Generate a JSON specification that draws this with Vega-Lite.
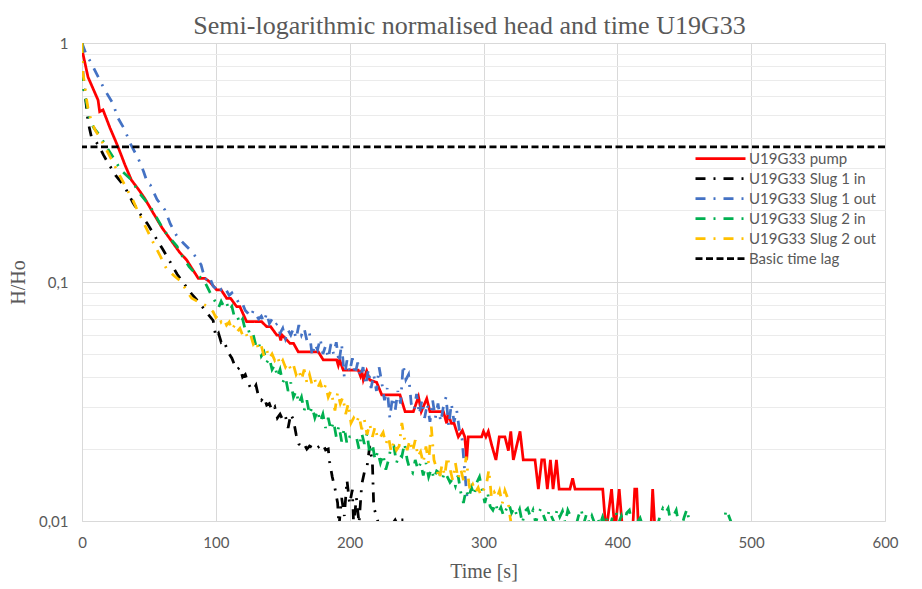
{
  "$schema": "https://vega.github.io/schema/vega-lite/v6.json",
  "width": 803,
  "height": 478,
  "autosize": {"type": "none"},
  "padding": {"left": 82, "top": 43, "right": 37, "bottom": 68},
  "background": "white",
  "title": {
    "text": "Semi-logarithmic normalised head and time U19G33",
    "anchor": "middle",
    "font": "Liberation Serif",
    "fontSize": 26,
    "fontWeight": "normal",
    "color": "#595959",
    "offset": -3,
    "dx": -14
  },
  "resolve": {"axis": {"x": "independent"}},
  "config": {
    "view": {"stroke": null},
    "axis": {
      "ticks": false,
      "domainColor": "#d9d9d9",
      "domainWidth": 1,
      "labelFont": "Lato",
      "labelFontSize": 15,
      "labelColor": "#595959",
      "labelOverlap": false,
      "labelFlush": false,
      "titleFont": "Liberation Serif",
      "titleFontSize": 20,
      "titleFontWeight": "normal",
      "titleColor": "#595959",
      "gridWidth": 1
    },
    "legend": {
      "orient": "none",
      "legendX": 610,
      "legendY": 108,
      "title": null,
      "symbolType": "M-5,0H5",
      "symbolSize": 100,
      "symbolStrokeWidth": 2.75,
      "symbolOffset": 21,
      "labelOffset": 21,
      "labelFont": "Lato",
      "labelFontSize": 15,
      "labelColor": "#595959",
      "rowPadding": 4
    }
  },
  "datasets": {
    "pump": [
      {"t":0,"h":0.94},{"t":4.5,"h":0.72},{"t":12,"h":0.577},{"t":13.2,"h":0.516},{"t":15.7,"h":0.525},
      {"t":21,"h":0.44},{"t":26.9,"h":0.368},{"t":32,"h":0.31},{"t":36.9,"h":0.267},{"t":42,"h":0.245},
      {"t":46.8,"h":0.224},{"t":53.3,"h":0.194},{"t":60,"h":0.168},{"t":68.2,"h":0.145},{"t":73,"h":0.133},
      {"t":78.2,"h":0.1236},{"t":83,"h":0.112},{"t":86.9,"h":0.1036},{"t":91.9,"h":0.1036},{"t":95.6,"h":0.1},
      {"t":100.6,"h":0.0926},{"t":104,"h":0.0926},{"t":108.1,"h":0.0855},{"t":111,"h":0.0855},{"t":115.6,"h":0.0788},
      {"t":118,"h":0.0788},{"t":123,"h":0.0682},{"t":134.3,"h":0.0682},{"t":138,"h":0.065},{"t":141,"h":0.065},
      {"t":145.5,"h":0.06},{"t":147.5,"h":0.06},{"t":148.5,"h":0.057},{"t":149.5,"h":0.06},{"t":155.4,"h":0.0554},
      {"t":158,"h":0.0554},{"t":161.6,"h":0.051},{"t":176.6,"h":0.051},{"t":180.3,"h":0.0472},{"t":190.3,"h":0.0472},
      {"t":191.5,"h":0.0448},{"t":192.5,"h":0.0472},{"t":195.2,"h":0.0428},{"t":206.4,"h":0.0428},{"t":208,"h":0.0405},
      {"t":209,"h":0.0428},{"t":210.2,"h":0.0389},{"t":212.7,"h":0.0425},{"t":215,"h":0.0389},{"t":220.2,"h":0.038},
      {"t":224,"h":0.0337},{"t":237.6,"h":0.0337},{"t":241.4,"h":0.0287},{"t":247.6,"h":0.0287},{"t":251.4,"h":0.0331},
      {"t":253.5,"h":0.0287},{"t":257.6,"h":0.0325},{"t":260,"h":0.0287},{"t":270,"h":0.0287},{"t":272.5,"h":0.0256},
      {"t":273.5,"h":0.0282},{"t":276,"h":0.0256},{"t":278,"h":0.0256},{"t":281.2,"h":0.0225},{"t":284.2,"h":0.0239},
      {"t":286,"h":0.0225},{"t":287.4,"h":0.018},{"t":288.6,"h":0.0225},{"t":298.6,"h":0.0225},{"t":300,"h":0.0237},
      {"t":301.8,"h":0.0225},{"t":303.6,"h":0.0237},{"t":306.1,"h":0.0208},{"t":309.3,"h":0.018},{"t":311.8,"h":0.0225},
      {"t":316,"h":0.0225},{"t":318.6,"h":0.0197},{"t":320.4,"h":0.0237},{"t":322.3,"h":0.018},{"t":327.3,"h":0.0237},
      {"t":329.7,"h":0.018},{"t":338.5,"h":0.018},{"t":341,"h":0.0136},{"t":343.5,"h":0.018},{"t":345.5,"h":0.018},
      {"t":347.7,"h":0.0136},{"t":350,"h":0.018},{"t":352,"h":0.0136},{"t":354.5,"h":0.018},{"t":356.5,"h":0.0136},
      {"t":364.6,"h":0.0136},{"t":366.6,"h":0.0151},{"t":368.4,"h":0.0136},{"t":389.1,"h":0.0136},{"t":391.6,"h":0.009},
      {"t":395.7,"h":0.0136},{"t":398.2,"h":0.009},{"t":401.4,"h":0.0136},{"t":404,"h":0.009},{"t":411.4,"h":0.009},
      {"t":413,"h":0.0136},{"t":414.5,"h":0.0136},{"t":415.9,"h":0.009},{"t":425,"h":0.009},{"t":426.4,"h":0.0136},
      {"t":428.2,"h":0.009},{"t":432,"h":0.009}
    ],
    "slug1in": [
      {"t":0,"h":1.0},{"t":0.5,"h":0.8},{"t":1,"h":0.66},{"t":2,"h":0.625},{"t":3.2,"h":0.55},{"t":4.5,"h":0.468},
      {"t":7,"h":0.405},{"t":10,"h":0.39},{"t":13,"h":0.368},{"t":16,"h":0.34},{"t":19,"h":0.318},{"t":25,"h":0.28},
      {"t":32,"h":0.25},{"t":38,"h":0.215},{"t":43,"h":0.194},{"t":49,"h":0.175},{"t":54,"h":0.157},{"t":60,"h":0.138},
      {"t":66,"h":0.121},{"t":71,"h":0.108},{"t":77,"h":0.097},{"t":82,"h":0.089},{"t":86,"h":0.084},{"t":92,"h":0.076},
      {"t":98,"h":0.069},{"t":100,"h":0.059},{"t":102,"h":0.061},{"t":104,"h":0.056},{"t":106,"h":0.057},{"t":108,"h":0.053},
      {"t":110,"h":0.05},{"t":112,"h":0.048},{"t":114,"h":0.045},{"t":116,"h":0.043},{"t":118,"h":0.044},{"t":120,"h":0.04},
      {"t":122,"h":0.041},{"t":124,"h":0.038},{"t":126,"h":0.036},{"t":128,"h":0.0354},{"t":130,"h":0.037},{"t":132,"h":0.033},
      {"t":134,"h":0.032},{"t":136,"h":0.033},{"t":138,"h":0.0305},{"t":140,"h":0.031},{"t":142,"h":0.029},{"t":144,"h":0.03},
      {"t":146,"h":0.027},{"t":148,"h":0.028},{"t":150,"h":0.0265},{"t":152,"h":0.0275},{"t":154,"h":0.0245},{"t":156,"h":0.028},
      {"t":158,"h":0.0265},{"t":160,"h":0.023},{"t":162,"h":0.021},{"t":164,"h":0.0205},{"t":166,"h":0.021},{"t":168,"h":0.02},
      {"t":170,"h":0.0206},{"t":172,"h":0.0203},{"t":174,"h":0.0208},{"t":176,"h":0.0203},{"t":178,"h":0.0206},{"t":180,"h":0.021},
      {"t":182,"h":0.0198},{"t":184,"h":0.02},{"t":185,"h":0.0177},{"t":187,"h":0.0153},{"t":189,"h":0.0137},
      {"t":191,"h":0.0119},{"t":192,"h":0.0095},{"t":194,"h":0.0125},{"t":196,"h":0.0105},{"t":198,"h":0.0148},{"t":200,"h":0.0118},
      {"t":202,"h":0.0135},{"t":203,"h":0.0095},{"t":205,"h":0.0125},{"t":207,"h":0.0098},{"t":209,"h":0.0142},{"t":211,"h":0.016},
      {"t":213,"h":0.0169},{"t":215,"h":0.0206},{"t":217,"h":0.0175},{"t":218,"h":0.0114},{"t":220,"h":0.0105},{"t":222,"h":0.0095},
      {"t":226,"h":0.0101},{"t":230,"h":0.0094},{"t":234,"h":0.0101},{"t":236,"h":0.0096},{"t":238,"h":0.0101},{"t":241,"h":0.0101}
    ],
    "slug1out": [
      {"t":0,"h":1.0},{"t":3,"h":0.9},{"t":7,"h":0.822},{"t":12,"h":0.723},{"t":17,"h":0.636},{"t":23,"h":0.56},
      {"t":27,"h":0.484},{"t":32,"h":0.433},{"t":36,"h":0.38},{"t":42,"h":0.329},{"t":46,"h":0.29},{"t":49,"h":0.259},
      {"t":51,"h":0.255},{"t":56,"h":0.222},{"t":62,"h":0.2},{"t":66,"h":0.175},{"t":71,"h":0.155},{"t":76,"h":0.145},
      {"t":82,"h":0.134},{"t":86,"h":0.125},{"t":89,"h":0.118},{"t":92,"h":0.102},{"t":95,"h":0.106},{"t":98,"h":0.096},
      {"t":100,"h":0.094},{"t":102,"h":0.09},{"t":104,"h":0.093},{"t":106,"h":0.0897},{"t":108,"h":0.092},{"t":110,"h":0.088},
      {"t":112,"h":0.09},{"t":114,"h":0.086},{"t":116,"h":0.084},{"t":118,"h":0.08},{"t":120,"h":0.081},{"t":122,"h":0.076},
      {"t":124,"h":0.074},{"t":126,"h":0.0716},{"t":128,"h":0.076},{"t":130,"h":0.073},{"t":132,"h":0.07},{"t":134,"h":0.072},
      {"t":136,"h":0.068},{"t":138,"h":0.074},{"t":140,"h":0.067},{"t":142,"h":0.07},{"t":144,"h":0.066},
      {"t":146,"h":0.067},{"t":148,"h":0.061},{"t":150,"h":0.064},{"t":152,"h":0.058},{"t":154,"h":0.063},{"t":156,"h":0.06},
      {"t":158,"h":0.064},{"t":160,"h":0.058},{"t":162,"h":0.066},{"t":164,"h":0.06},{"t":166,"h":0.064},{"t":168,"h":0.057},
      {"t":170,"h":0.061},{"t":172,"h":0.049},{"t":174,"h":0.055},{"t":176,"h":0.052},{"t":178,"h":0.058},{"t":180,"h":0.05},
      {"t":182,"h":0.054},{"t":184,"h":0.048},{"t":186,"h":0.055},{"t":188,"h":0.05},{"t":190,"h":0.056},{"t":192,"h":0.046},
      {"t":194,"h":0.055},{"t":196,"h":0.04},{"t":198,"h":0.047},{"t":200,"h":0.042},{"t":202,"h":0.048},{"t":204,"h":0.041},
      {"t":206,"h":0.046},{"t":208,"h":0.04},{"t":210,"h":0.044},{"t":212,"h":0.037},{"t":214,"h":0.043},{"t":216,"h":0.036},
      {"t":218,"h":0.041},{"t":220,"h":0.035},{"t":222,"h":0.044},{"t":224,"h":0.038},{"t":226,"h":0.032},{"t":228,"h":0.036},
      {"t":230,"h":0.027},{"t":232,"h":0.033},{"t":234,"h":0.029},{"t":236,"h":0.035},{"t":238,"h":0.031},{"t":240,"h":0.045},
      {"t":242,"h":0.039},{"t":244,"h":0.041},{"t":246,"h":0.031},{"t":248,"h":0.029},{"t":250,"h":0.034},{"t":252,"h":0.028},
      {"t":254,"h":0.032},{"t":256,"h":0.027},{"t":258,"h":0.031},{"t":260,"h":0.026},{"t":262,"h":0.032},{"t":264,"h":0.027},
      {"t":266,"h":0.031},{"t":268,"h":0.026},{"t":270,"h":0.03},{"t":272,"h":0.033},{"t":274,"h":0.025},{"t":276,"h":0.031},
      {"t":278,"h":0.026},{"t":280,"h":0.029},{"t":282,"h":0.024},{"t":284,"h":0.022},{"t":286,"h":0.016},{"t":288,"h":0.012}
    ],
    "slug2in": [
      {"t":0,"h":1.0},{"t":0.5,"h":0.68},{"t":2,"h":0.6},{"t":3.2,"h":0.568},{"t":5.7,"h":0.476},{"t":9,"h":0.44},
      {"t":13,"h":0.412},{"t":18,"h":0.37},{"t":23,"h":0.334},{"t":29,"h":0.294},{"t":37,"h":0.267},{"t":43,"h":0.235},
      {"t":51,"h":0.207},{"t":56,"h":0.185},{"t":61,"h":0.165},{"t":66,"h":0.152},{"t":71,"h":0.141},{"t":75,"h":0.128},
      {"t":80,"h":0.116},{"t":85,"h":0.108},{"t":91,"h":0.102},{"t":96,"h":0.0897},
      {"t":100,"h":0.082},{"t":102,"h":0.078},{"t":104,"h":0.083},{"t":106,"h":0.079},{"t":108,"h":0.082},{"t":110,"h":0.076},
      {"t":112,"h":0.079},{"t":114,"h":0.071},{"t":116,"h":0.072},{"t":118,"h":0.067},{"t":120,"h":0.07},{"t":122,"h":0.063},
      {"t":124,"h":0.064},{"t":126,"h":0.059},{"t":128,"h":0.06},{"t":130,"h":0.054},{"t":132,"h":0.056},{"t":134,"h":0.049},
      {"t":136,"h":0.051},{"t":138,"h":0.046},{"t":140,"h":0.048},{"t":142,"h":0.043},{"t":144,"h":0.045},{"t":146,"h":0.04},
      {"t":148,"h":0.043},{"t":150,"h":0.038},{"t":152,"h":0.04},{"t":154,"h":0.035},{"t":156,"h":0.038},{"t":158,"h":0.033},
      {"t":160,"h":0.035},{"t":162,"h":0.031},{"t":164,"h":0.033},{"t":166,"h":0.029},{"t":168,"h":0.032},{"t":170,"h":0.028},
      {"t":172,"h":0.03},{"t":174,"h":0.027},{"t":176,"h":0.029},{"t":178,"h":0.026},{"t":180,"h":0.028},{"t":182,"h":0.0245},
      {"t":184,"h":0.027},{"t":186,"h":0.024},{"t":188,"h":0.026},{"t":190,"h":0.0225},{"t":192,"h":0.025},{"t":194,"h":0.0215},
      {"t":196,"h":0.0245},{"t":198,"h":0.021},
      {"t":200,"h":0.0225},{"t":203,"h":0.0225},{"t":205,"h":0.0225},{"t":207,"h":0.02},{"t":209,"h":0.0233},
      {"t":211,"h":0.021},{"t":213,"h":0.0233},{"t":215,"h":0.019},{"t":217,"h":0.021},{"t":219,"h":0.018},{"t":221,"h":0.0195},
      {"t":223,"h":0.0175},{"t":225,"h":0.019},{"t":227,"h":0.0164},{"t":229,"h":0.018},{"t":231,"h":0.0206},{"t":233,"h":0.0206},
      {"t":235,"h":0.0175},{"t":237,"h":0.019},{"t":239,"h":0.0186},{"t":241,"h":0.0211},{"t":243,"h":0.018},{"t":245,"h":0.0164},
      {"t":247,"h":0.0159},{"t":249,"h":0.018},{"t":251,"h":0.0164},{"t":253,"h":0.0175},{"t":255,"h":0.0155},{"t":257,"h":0.0175},
      {"t":259,"h":0.0153},{"t":261,"h":0.0165},{"t":263,"h":0.015},{"t":265,"h":0.0162},{"t":267,"h":0.0159},{"t":269,"h":0.0148},
      {"t":271,"h":0.016},{"t":273,"h":0.0153},{"t":275,"h":0.0145},{"t":277,"h":0.015},{"t":279,"h":0.014},{"t":281,"h":0.0155},
      {"t":283,"h":0.0132},{"t":285,"h":0.0119},{"t":287,"h":0.0135},{"t":289,"h":0.0125},{"t":291,"h":0.0138},{"t":293,"h":0.0128},
      {"t":295,"h":0.0145},{"t":297,"h":0.0153},{"t":299,"h":0.0135},{"t":301,"h":0.0119},{"t":303,"h":0.0132},{"t":305,"h":0.0115},
      {"t":307,"h":0.0111},{"t":309,"h":0.0119},{"t":311,"h":0.0108},{"t":313,"h":0.0114},{"t":315,"h":0.0105},{"t":317,"h":0.0112},
      {"t":319,"h":0.0118},{"t":321,"h":0.0108},{"t":323,"h":0.0114},{"t":325,"h":0.0105},{"t":327,"h":0.0112},{"t":329,"h":0.0098},
      {"t":331,"h":0.011},{"t":333,"h":0.0113},{"t":335,"h":0.0104},{"t":337,"h":0.0111},{"t":339,"h":0.0098},{"t":341,"h":0.0108},
      {"t":343,"h":0.0113},{"t":345,"h":0.0105},{"t":347,"h":0.0098},{"t":349,"h":0.0111},{"t":351,"h":0.0104},{"t":353,"h":0.0098},
      {"t":355,"h":0.0112},{"t":357,"h":0.0104},{"t":359,"h":0.011},{"t":361,"h":0.0098},{"t":363,"h":0.0111},{"t":365,"h":0.0105},
      {"t":367,"h":0.0095},{"t":369,"h":0.0095},{"t":371,"h":0.0105},{"t":373,"h":0.0112},{"t":375,"h":0.0098},{"t":377,"h":0.0107},
      {"t":379,"h":0.0098},{"t":381,"h":0.0105},{"t":383,"h":0.0098},{"t":385,"h":0.0104},{"t":387,"h":0.0096},{"t":389,"h":0.0104},
      {"t":391,"h":0.0096},{"t":393,"h":0.0105},{"t":395,"h":0.0097},{"t":397,"h":0.0107},{"t":399,"h":0.0109},{"t":401,"h":0.0098},
      {"t":403,"h":0.0105},{"t":405,"h":0.0096},{"t":407,"h":0.0108},{"t":409,"h":0.0111},{"t":411,"h":0.0098},{"t":413,"h":0.0095},
      {"t":417,"h":0.0103},{"t":419,"h":0.0095},{"t":430,"h":0.0095},{"t":432,"h":0.0106},{"t":434,"h":0.0113},{"t":436,"h":0.0108},
      {"t":438,"h":0.0113},{"t":440,"h":0.0098},{"t":442,"h":0.0105},{"t":444,"h":0.0111},{"t":446,"h":0.0096},{"t":448,"h":0.0095},
      {"t":450,"h":0.0104},{"t":452,"h":0.0112},{"t":454,"h":0.0098},{"t":456,"h":0.0095},{"t":480,"h":0.0095},{"t":481,"h":0.0111},
      {"t":483,"h":0.0106},{"t":485,"h":0.0099}
    ],
    "slug2out": [
      {"t":0,"h":1.0},{"t":0.5,"h":0.75},{"t":2,"h":0.68},{"t":3,"h":0.6},{"t":4.5,"h":0.533},{"t":7,"h":0.47},
      {"t":10,"h":0.43},{"t":13,"h":0.405},{"t":18,"h":0.36},{"t":23,"h":0.318},{"t":28,"h":0.28},{"t":33,"h":0.248},
      {"t":38,"h":0.22},{"t":43,"h":0.191},{"t":48,"h":0.168},{"t":53,"h":0.147},{"t":58,"h":0.13},{"t":63,"h":0.114},
      {"t":69,"h":0.106},{"t":74.5,"h":0.1},{"t":78,"h":0.092},{"t":82,"h":0.0855},{"t":88,"h":0.082},{"t":94,"h":0.079},
      {"t":98,"h":0.075},{"t":100,"h":0.071},{"t":102,"h":0.073},{"t":104,"h":0.068},{"t":106,"h":0.07},{"t":108,"h":0.066},
      {"t":110,"h":0.068},{"t":112,"h":0.063},{"t":114,"h":0.066},{"t":116,"h":0.062},{"t":118,"h":0.064},{"t":120,"h":0.06},
      {"t":122,"h":0.062},{"t":124,"h":0.058},{"t":126,"h":0.06},{"t":128,"h":0.055},{"t":130,"h":0.057},{"t":132,"h":0.052},
      {"t":134,"h":0.054},{"t":136,"h":0.049},{"t":138,"h":0.052},{"t":140,"h":0.048},{"t":142,"h":0.05},{"t":144,"h":0.047},
      {"t":146,"h":0.049},{"t":148,"h":0.045},{"t":150,"h":0.047},{"t":152,"h":0.044},{"t":154,"h":0.046},{"t":156,"h":0.043},
      {"t":158,"h":0.045},{"t":160,"h":0.041},{"t":162,"h":0.043},{"t":164,"h":0.039},{"t":166,"h":0.043},{"t":168,"h":0.038},
      {"t":170,"h":0.041},{"t":172,"h":0.037},{"t":174,"h":0.039},{"t":176,"h":0.036},{"t":178,"h":0.038},{"t":180,"h":0.035},
      {"t":182,"h":0.037},{"t":184,"h":0.033},{"t":186,"h":0.035},{"t":188,"h":0.031},
      {"t":189,"h":0.029},{"t":191,"h":0.0345},{"t":193,"h":0.031},
      {"t":195,"h":0.033},{"t":197,"h":0.028},{"t":199,"h":0.031},{"t":201,"h":0.0257},{"t":203,"h":0.027},{"t":205,"h":0.0257},
      {"t":207,"h":0.0275},{"t":209,"h":0.0242},{"t":211,"h":0.0265},{"t":213,"h":0.023},{"t":215,"h":0.0255},{"t":217,"h":0.0225},
      {"t":219,"h":0.0248},{"t":221,"h":0.022},{"t":223,"h":0.0225},{"t":225,"h":0.0235},{"t":227,"h":0.021},{"t":229,"h":0.0225},
      {"t":231,"h":0.0195},{"t":233,"h":0.0215},{"t":235,"h":0.0198},{"t":237,"h":0.0206},{"t":239,"h":0.0257},{"t":241,"h":0.022},
      {"t":243,"h":0.0198},{"t":245,"h":0.0218},{"t":247,"h":0.0195},{"t":249,"h":0.0218},{"t":251,"h":0.0186},{"t":253,"h":0.0195},
      {"t":255,"h":0.0175},{"t":257,"h":0.0205},{"t":259,"h":0.0175},{"t":261,"h":0.0248},{"t":263,"h":0.018},{"t":265,"h":0.0165},
      {"t":267,"h":0.015},{"t":269,"h":0.0172},{"t":271,"h":0.0155},{"t":273,"h":0.0186},{"t":275,"h":0.0165},{"t":277,"h":0.0148},
      {"t":279,"h":0.0175},{"t":281,"h":0.015},{"t":283,"h":0.0165},{"t":285,"h":0.0148},{"t":287,"h":0.0186},{"t":289,"h":0.0145},
      {"t":290,"h":0.0134},{"t":292,"h":0.0142},{"t":294,"h":0.0132},{"t":296,"h":0.0138},{"t":298,"h":0.0128},{"t":300,"h":0.0135},
      {"t":302,"h":0.014},{"t":304,"h":0.0164},{"t":306,"h":0.0125},{"t":308,"h":0.0132},{"t":310,"h":0.0125},{"t":312,"h":0.0134},
      {"t":314,"h":0.0118},{"t":316,"h":0.0134},{"t":318,"h":0.0125},{"t":320,"h":0.0103},{"t":321,"h":0.0095}
    ],
    "timelag": [{"h": 0.368}]
  },
  "layer": [
    {
      "data": {"name": "pump"},
      "mark": {"type": "line", "clip": true, "strokeWidth": 2.75},
      "encoding": {
        "x": {
          "field": "t", "type": "quantitative", "title": "Time [s]",
          "scale": {"domain": [0, 600], "nice": false},
          "axis": {
            "orient": "bottom",
            "values": [0, 100, 200, 300, 400, 500, 600],
            "gridColor": "#d9d9d9",
            "labelPadding": 14,
            "titlePadding": 11
          }
        },
        "y": {
          "field": "h", "type": "quantitative", "title": "H/Ho",
          "scale": {"type": "log", "domain": [0.01, 1]},
          "axis": {
            "values": [0.01,0.02,0.03,0.04,0.05,0.06,0.07,0.08,0.09,0.1,0.2,0.3,0.4,0.5,0.6,0.7,0.8,0.9,1],
            "format": "~g",
            "labelExpr": "indexof([0.01, 0.1, 1], datum.value) >= 0 ? replace(datum.label, '.', ',') : ''",
            "labelOverlap": false,
            "gridColor": {"condition": {"test": "indexof([0.01, 0.1, 1], datum.value) >= 0", "value": "#d9d9d9"}, "value": "#ebebeb"},
            "labelPadding": 14,
            "titlePadding": 10
          }
        },
        "color": {
          "datum": "U19G33 pump", "type": "nominal",
          "scale": {
            "domain": ["U19G33 pump", "U19G33 Slug 1 in", "U19G33 Slug 1 out", "U19G33 Slug 2 in", "U19G33 Slug 2 out", "Basic time lag"],
            "range": ["#ff0000", "#000000", "#4472c4", "#00b050", "#ffc000", "#000000"]
          }
        },
        "strokeDash": {
          "datum": "U19G33 pump", "type": "nominal",
          "scale": {
            "domain": ["U19G33 pump", "U19G33 Slug 1 in", "U19G33 Slug 1 out", "U19G33 Slug 2 in", "U19G33 Slug 2 out", "Basic time lag"],
            "range": [[1, 0], [10, 8, 2, 8], [10, 8, 2, 8], [10, 8, 2, 8], [10, 8, 2, 8], [7, 3.5]]
          }
        }
      }
    },
    {
      "data": {"name": "slug1in"},
      "mark": {"type": "line", "clip": true, "strokeWidth": 2.75},
      "encoding": {
        "x": {
          "field": "t", "type": "quantitative",
          "axis": {
            "orient": "top",
            "title": null,
            "labels": false,
            "domain": false,
            "gridColor": "#ebebeb",
            "values": [10,20,30,40,50,60,70,80,90,110,120,130,140,150,160,170,180,190,210,220,230,240,250,260,270,280,290,310,320,330,340,350,360,370,380,390,410,420,430,440,450,460,470,480,490,510,520,530,540,550,560,570,580,590]
          }
        },
        "y": {"field": "h", "type": "quantitative"},
        "color": {"datum": "U19G33 Slug 1 in", "type": "nominal"},
        "strokeDash": {"datum": "U19G33 Slug 1 in", "type": "nominal"}
      }
    },
    {
      "data": {"name": "slug1out"},
      "mark": {"type": "line", "clip": true, "strokeWidth": 2.75},
      "encoding": {
        "x": {"field": "t", "type": "quantitative", "axis": null},
        "y": {"field": "h", "type": "quantitative"},
        "color": {"datum": "U19G33 Slug 1 out", "type": "nominal"},
        "strokeDash": {"datum": "U19G33 Slug 1 out", "type": "nominal"}
      }
    },
    {
      "data": {"name": "slug2in"},
      "mark": {"type": "line", "clip": true, "strokeWidth": 2.75},
      "encoding": {
        "x": {"field": "t", "type": "quantitative", "axis": null},
        "y": {"field": "h", "type": "quantitative"},
        "color": {"datum": "U19G33 Slug 2 in", "type": "nominal"},
        "strokeDash": {"datum": "U19G33 Slug 2 in", "type": "nominal"}
      }
    },
    {
      "data": {"name": "slug2out"},
      "mark": {"type": "line", "clip": true, "strokeWidth": 2.75},
      "encoding": {
        "x": {"field": "t", "type": "quantitative", "axis": null},
        "y": {"field": "h", "type": "quantitative"},
        "color": {"datum": "U19G33 Slug 2 out", "type": "nominal"},
        "strokeDash": {"datum": "U19G33 Slug 2 out", "type": "nominal"}
      }
    },
    {
      "data": {"name": "timelag"},
      "mark": {"type": "rule", "strokeWidth": 2.75},
      "encoding": {
        "y": {"field": "h", "type": "quantitative"},
        "color": {"datum": "Basic time lag", "type": "nominal"},
        "strokeDash": {"datum": "Basic time lag", "type": "nominal"}
      }
    }
  ]
}
